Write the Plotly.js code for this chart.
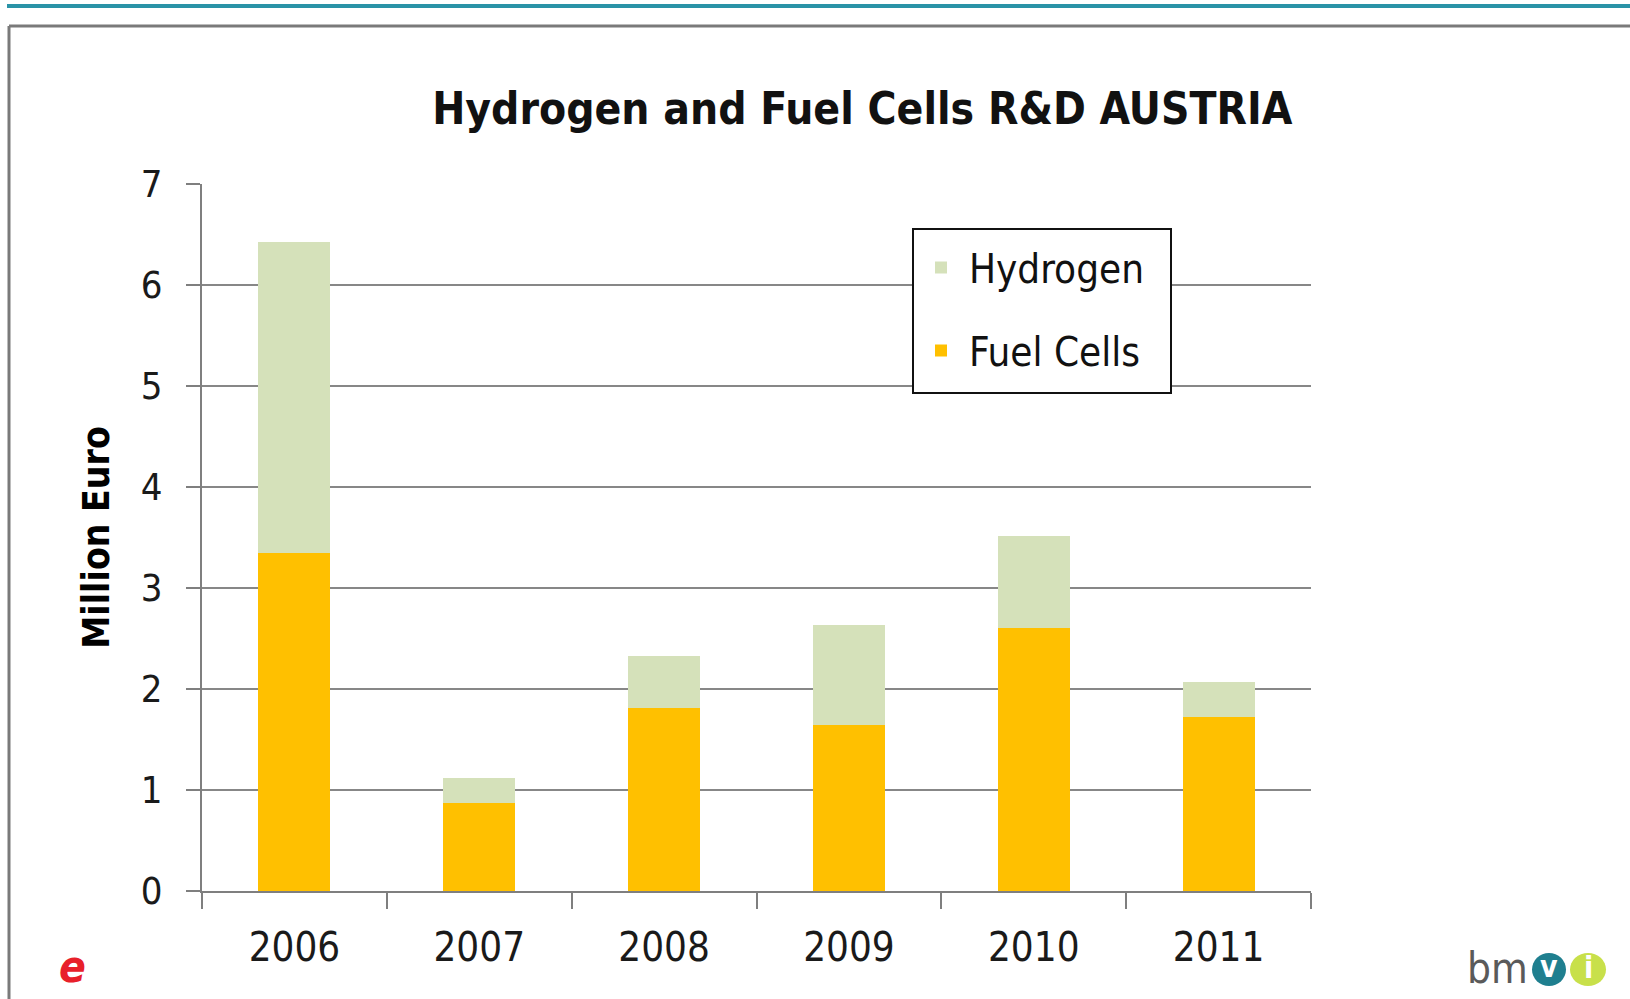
<!DOCTYPE html>
<html>
<head>
<meta charset="utf-8">
<script src="https://cdn.plot.ly/plotly-3.0.1.min.js"></script>
<style>html,body{margin:0;padding:0;background:#fff;}#chart{width:1630px;height:999px;}</style>
</head>
<body>
<div id="chart"></div>
<script>
const years = ['2006', '2007', '2008', '2009', '2010', '2011'];
const fuelCells = [3.35, 0.87, 1.81, 1.64, 2.60, 1.72];
const hydrogen = [3.08, 0.25, 0.52, 0.99, 0.91, 0.35];
const seriesNames = ['Fuel Cells', 'Hydrogen'];
const yTicks = [0, 1, 2, 3, 4, 5, 6, 7];

const FONT = '"Liberation Sans Narrow", "DejaVu Sans Condensed", Lato, sans-serif';
const PL = 202, PR = 1311, PT = 184, PB = 891;
const px = v => (v - PL) / (PR - PL);
const py = v => (PB - v) / (PB - PT);

const traces = [
  {type: 'bar', name: seriesNames[0], x: years, y: fuelCells, width: 0.39,
   legendgroup: 'fc', legendrank: 2, marker: {color: '#FFC000', line: {width: 0}}},
  {type: 'bar', name: seriesNames[1], x: years, y: hydrogen, width: 0.39,
   legendgroup: 'h', legendrank: 1, marker: {color: '#D5E1BA', line: {width: 0}}}
];

const layout = {
  width: 1630, height: 999,
  margin: {l: PL, r: 1630 - PR, t: PT, b: 999 - PB, autoexpand: false},
  paper_bgcolor: '#ffffff', plot_bgcolor: '#ffffff',
  barmode: 'stack',
  showlegend: true,
  font: {family: FONT, color: '#1a1a1a'},
  title: {text: 'Hydrogen and Fuel Cells R&D AUSTRIA', x: 0.529, xanchor: 'center',
          xref: 'container', y: 1 - 109 / 999, yref: 'container', yanchor: 'middle',
          font: {family: FONT, size: 44, color: '#111', weight: 'bold'}},
  xaxis: {type: 'category', tickson: 'boundaries', ticks: 'outside', ticklen: 16,
          tickcolor: '#7f7f7f', tickwidth: 2, showline: true, linecolor: '#7f7f7f', linewidth: 2,
          showgrid: false, tickfont: {family: FONT, size: 40, color: '#1a1a1a'},
          ticklabelstandoff: 20, range: [-0.5, 5.5], fixedrange: true},
  yaxis: {range: [0, 7], tickvals: yTicks, ticks: 'outside', ticklen: 14, tickcolor: '#7f7f7f',
          tickwidth: 2, showline: true, linecolor: '#7f7f7f', linewidth: 2,
          showgrid: true, gridcolor: '#878787', gridwidth: 2, zeroline: false,
          tickfont: {family: FONT, size: 38, color: '#1a1a1a'}, ticklabelstandoff: 16,
          title: {text: 'Million Euro', standoff: 20, font: {family: FONT, size: 37, color: '#000', weight: 'bold'}},
          automargin: false},
  legend: {x: px(913), y: py(235), xanchor: 'left', yanchor: 'top',
           bgcolor: 'rgba(255,255,255,0)', bordercolor: '#111', borderwidth: 0,
           traceorder: 'grouped', tracegroupgap: 28,
           font: {family: FONT, size: 40, color: '#111'}, itemwidth: 46},
  shapes: [
    {type: 'rect', xref: 'paper', yref: 'paper', layer: 'above',
     x0: px(913), x1: px(1171), y0: py(229), y1: py(393),
     fillcolor: '#ffffff', line: {color: '#111', width: 2}},
    {type: 'line', xref: 'paper', yref: 'paper', x0: px(7), x1: px(1630), y0: py(6), y1: py(6),
     line: {color: '#2A93A7', width: 4}},
    {type: 'line', xref: 'paper', yref: 'paper', x0: px(9), x1: px(1630), y0: py(26), y1: py(26),
     line: {color: '#7a7a7a', width: 3}},
    {type: 'line', xref: 'paper', yref: 'paper', x0: px(9), x1: px(9), y0: py(26), y1: py(999),
     line: {color: '#7a7a7a', width: 3}},
    {type: 'circle', xref: 'paper', yref: 'paper', x0: px(1532), x1: px(1566), y0: py(953), y1: py(986),
     fillcolor: '#1F7F8F', line: {width: 0}},
    {type: 'circle', xref: 'paper', yref: 'paper', x0: px(1570), x1: px(1606), y0: py(953), y1: py(986),
     fillcolor: '#C8E04A', line: {width: 0}}
  ],
  annotations: [
    {text: 'e', xref: 'paper', yref: 'paper', x: px(72), y: py(966), xanchor: 'center', yanchor: 'middle',
     showarrow: false, font: {family: FONT, size: 44, color: '#E8202A', style: 'italic', weight: 'bold'}},
    {text: 'bm', xref: 'paper', yref: 'paper', x: px(1530), y: py(968), xanchor: 'right', yanchor: 'middle',
     showarrow: false, font: {family: FONT, size: 42, color: '#5a5a5a'}},
    {text: 'v', xref: 'paper', yref: 'paper', x: px(1549), y: py(966), xanchor: 'center', yanchor: 'middle',
     showarrow: false, font: {family: FONT, size: 30, color: '#ffffff', weight: 'bold'}},
    {text: 'i', xref: 'paper', yref: 'paper', x: px(1588), y: py(967), xanchor: 'center', yanchor: 'middle',
     showarrow: false, font: {family: FONT, size: 30, color: '#ffffff', weight: 'bold'}}
  ]
};

Plotly.newPlot('chart', traces, layout, {displayModeBar: false, staticPlot: true});
</script>
</body>
</html>
